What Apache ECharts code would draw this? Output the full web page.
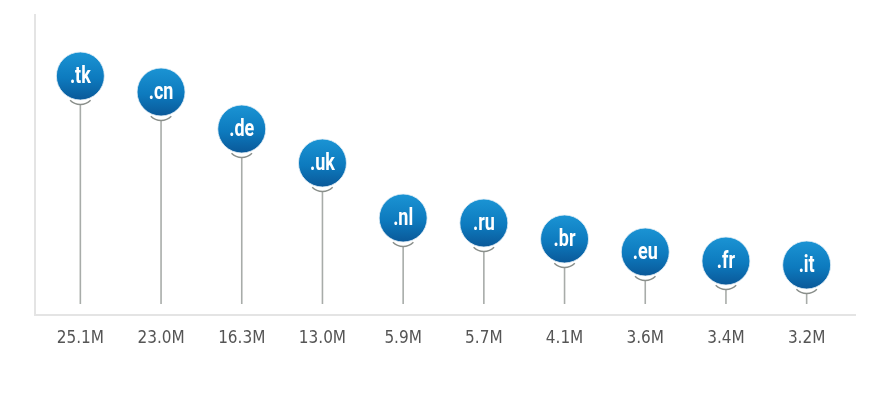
<!DOCTYPE html>
<html><head><meta charset="utf-8">
<script src="https://cdn.jsdelivr.net/npm/echarts@6/dist/echarts.min.js"></script>
<style>html,body{margin:0;padding:0;background:#fff}#c{width:893px;height:394px}</style>
</head><body><div id="c"></div>
<script>
// Top-level domains and their counts (axis labels)
var domains = ['.tk', '.cn', '.de', '.uk', '.nl', '.ru', '.br', '.eu', '.fr', '.it'];
var valueLabels = ['25.1M', '23.0M', '16.3M', '13.0M', '5.9M', '5.7M', '4.1M', '3.6M', '3.4M', '3.2M'];
// Pin heights as drawn in the reference (units above the axis line)
var pinHeights = [238, 222, 185, 151, 96, 91, 75, 62, 53, 49];
var stemBase = 10;

var chart = echarts.init(document.getElementById('c'), null, {renderer: 'canvas'});
var AXFONT = '"DejaVu Sans Condensed", "Roboto", sans-serif';
var FONT = 'Roboto, sans-serif';
var R = 24;

chart.setOption({
  animation: false,
  backgroundColor: '#ffffff',
  grid: {left: 40, right: 46, top: 14, bottom: 80},
  xAxis: {
    type: 'category', data: valueLabels,
    axisLine: {show: false}, axisTick: {show: false},
    axisLabel: {color: '#555555', fontFamily: AXFONT, fontSize: 17, margin: 16}
  },
  yAxis: {type: 'value', min: 0, max: 300, show: false, splitLine: {show: false}},
  graphic: [
    {type: 'line', shape: {x1: 35, y1: 14, x2: 35, y2: 315}, style: {stroke: '#e4e4e4', lineWidth: 2}, silent: true},
    {type: 'line', shape: {x1: 34, y1: 315, x2: 856, y2: 315}, style: {stroke: '#e4e4e4', lineWidth: 2}, silent: true}
  ],
  series: [{
    type: 'custom',
    data: pinHeights.map(function (h, i) { return [i, h]; }),
    renderItem: function (params, api) {
      var i = api.value(0);
      var c = api.coord([i, api.value(1)]);
      var b = api.coord([i, stemBase]);
      var cx = c[0], cy = c[1];
      return {
        type: 'group',
        children: [
          {type: 'line', shape: {x1: cx, y1: cy + R + 4, x2: cx, y2: b[1]}, style: {stroke: '#a8aca9', lineWidth: 1.6}},
          {type: 'arc', shape: {cx: cx, cy: cy + R - 10, r: 14.5, startAngle: Math.PI * 0.25, endAngle: Math.PI * 0.75}, style: {stroke: '#8a8f8b', lineWidth: 1.4, fill: null}},
          {type: 'circle', shape: {cx: cx, cy: cy, r: R},
            style: {fill: new echarts.graphic.LinearGradient(0, 0, 0, 1, [
              {offset: 0, color: '#1b94d4'}, {offset: 0.55, color: '#0d7abe'}, {offset: 1, color: '#0a5898'}
            ]), stroke: '#e8f1f8', lineWidth: 0.8}},
          {type: 'text', x: cx, y: cy + 1, scaleX: 0.78,
            style: {x: 0, y: 0, text: domains[i], fill: '#ffffff', fontFamily: FONT, fontWeight: 'bold', fontSize: 23, align: 'center', verticalAlign: 'middle'}}
        ]
      };
    }
  }]
});
</script></body></html>
